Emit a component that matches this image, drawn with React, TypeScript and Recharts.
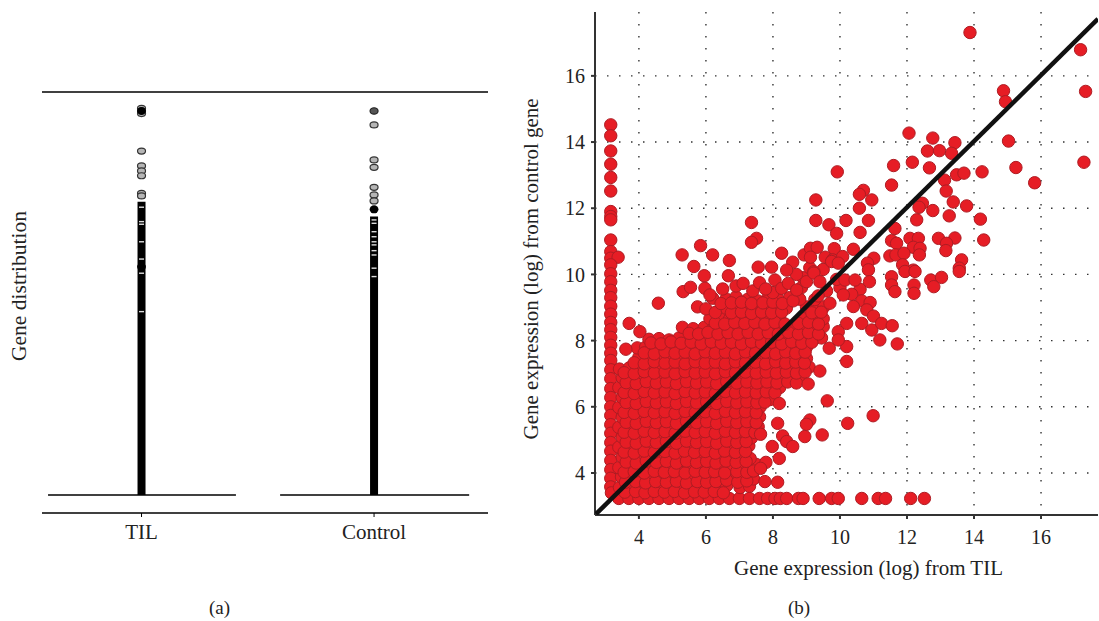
import React from "react";
import {
  ScatterChart, Scatter, XAxis, YAxis, CartesianGrid, ReferenceLine,
} from "recharts";

const SERIF = '"Liberation Serif", serif';

// (a) gene distribution
const categories = ["TIL", "Control"];
const columnTil = [0, 12.22];
const columnControl = [0, 11.6];
const outliersTil = [16.11, 16.0, 15.89, 14.33, 13.71, 13.5, 13.3, 12.57, 12.46];
const outliersControl = [16.0, 15.42, 13.96, 13.65, 12.82, 12.5, 12.25];
const solidTil = [9.51, 16.0];
const solidControl = [11.9];
const gapsTil = [11.99, 11.39, 11.28, 10.55, 9.83, 9.24, 7.64];
const gapsControl = [11.46, 11.32, 10.97, 10.76, 10.55, 10.42, 10.18, 10.0, 9.45, 9.1];

// (b) expression TIL vs control, [til, control]
const edgeColumn = [
  [3.16, 14.52], [3.16, 14.19], [3.16, 13.73], [3.16, 13.33], [3.16, 12.93], [3.16, 12.52], [3.16, 11.9], [3.16, 11.75],
  [3.16, 11.65], [3.16, 11.04], [3.16, 10.69], [3.16, 10.49], [3.38, 10.52], [3.16, 10.29], [3.16, 10.02], [3.16, 9.78],
  [3.16, 9.52], [3.16, 9.3], [3.16, 9.04], [3.16, 8.8], [3.16, 8.55], [3.16, 8.33], [3.16, 8.1], [3.16, 7.86], [3.16, 7.62],
  [3.16, 7.4], [3.16, 7.12], [3.16, 6.85], [3.16, 6.55], [3.16, 6.28], [3.16, 6.0], [3.16, 5.74], [3.16, 5.46], [3.16, 5.2],
  [3.16, 4.92], [3.16, 4.66], [3.16, 4.38], [3.16, 4.1], [3.16, 3.84], [3.16, 3.58], [3.18, 3.4],
];
const floorRow = [
  [3.4, 3.23], [3.7, 3.23], [4.0, 3.23], [4.3, 3.23], [4.6, 3.23], [4.9, 3.23], [5.2, 3.23], [5.5, 3.23], [5.8, 3.23], [6.1, 3.23],
  [6.4, 3.23], [6.7, 3.23], [7.0, 3.23], [7.3, 3.23], [7.6, 3.23], [7.84, 3.23], [8.06, 3.23], [8.22, 3.23], [8.41, 3.23],
  [8.76, 3.23], [8.9, 3.23], [9.38, 3.23], [9.75, 3.23], [9.95, 3.23], [10.65, 3.23], [11.14, 3.23], [11.36, 3.23],
  [12.11, 3.23], [12.52, 3.23],
];
const lowerCloud = [
  [3.42, 3.56], [3.74, 3.6], [4.02, 3.52], [4.31, 3.62], [4.6, 3.55], [4.92, 3.6], [5.2, 3.54], [5.5, 3.62], [5.8, 3.55], [6.1, 3.6], [6.38, 3.54], [6.62, 3.62], [7.02, 3.56], [7.3, 3.6],
  [3.48, 3.88], [3.8, 3.84], [4.1, 3.9], [4.4, 3.82], [4.7, 3.9], [5.0, 3.85], [5.3, 3.9], [5.62, 3.83], [5.9, 3.9], [6.18, 3.84], [6.44, 3.92], [6.8, 3.86], [7.1, 3.92], [7.42, 3.82],
  [3.4, 4.16], [3.68, 4.2], [3.98, 4.14], [4.28, 4.22], [4.58, 4.14], [4.88, 4.2], [5.18, 4.15], [5.48, 4.22], [5.78, 4.14], [6.08, 4.2], [6.36, 4.14], [6.7, 4.22], [7.0, 4.14], [7.3, 4.2], [7.5, 4.26],
  [3.5, 4.48], [3.8, 4.44], [4.1, 4.5], [4.4, 4.45], [4.72, 4.52], [5.02, 4.44], [5.3, 4.5], [5.6, 4.46], [5.92, 4.52], [6.22, 4.45], [6.5, 4.5], [6.82, 4.46], [7.12, 4.5], [7.32, 4.44],
  [3.4, 4.78], [3.7, 4.8], [4.0, 4.74], [4.3, 4.8], [4.6, 4.76], [4.9, 4.82], [5.2, 4.75], [5.5, 4.8], [5.8, 4.76], [6.1, 4.82], [6.4, 4.75], [6.7, 4.8], [7.0, 4.76], [7.28, 4.82],
  [3.5, 5.08], [3.8, 5.04], [4.1, 5.1], [4.42, 5.05], [4.72, 5.12], [5.0, 5.05], [5.32, 5.1], [5.62, 5.06], [5.9, 5.12], [6.2, 5.05], [6.52, 5.1], [6.82, 5.04], [7.1, 5.1], [7.36, 5.06],
  [3.4, 5.38], [3.7, 5.34], [4.0, 5.4], [4.3, 5.36], [4.6, 5.42], [4.92, 5.35], [5.2, 5.4], [5.5, 5.34], [5.82, 5.42], [6.12, 5.36], [6.4, 5.4], [6.72, 5.35], [7.0, 5.42], [7.3, 5.36], [7.56, 5.4],
  [3.5, 5.68], [3.82, 5.64], [4.1, 5.7], [4.4, 5.65], [4.7, 5.72], [5.02, 5.66], [5.3, 5.7], [5.62, 5.64], [5.92, 5.72], [6.2, 5.65], [6.5, 5.7], [6.82, 5.66], [7.12, 5.72], [7.42, 5.64], [7.6, 5.7],
  [3.4, 5.98], [3.7, 5.94], [4.02, 6.0], [4.3, 5.95], [4.62, 6.02], [4.9, 5.96], [5.2, 6.0], [5.52, 5.94], [5.8, 6.02], [6.1, 5.95], [6.42, 6.0], [6.7, 5.96], [7.02, 6.02], [7.3, 5.95], [7.62, 6.0],
  [3.5, 6.28], [3.8, 6.24], [4.1, 6.3], [4.42, 6.25], [4.7, 6.32], [5.02, 6.26], [5.3, 6.3], [5.6, 6.24], [5.9, 6.32], [6.22, 6.25], [6.5, 6.3], [6.82, 6.26], [7.1, 6.32], [7.42, 6.25], [7.72, 6.3], [7.92, 6.22],
  [3.4, 6.58], [3.7, 6.54], [4.0, 6.6], [4.3, 6.55], [4.62, 6.62], [4.92, 6.56], [5.2, 6.6], [5.5, 6.54], [5.82, 6.62], [6.12, 6.55], [6.4, 6.6], [6.72, 6.56], [7.0, 6.62], [7.3, 6.55], [7.6, 6.6], [7.9, 6.54], [8.2, 6.58],
  [3.5, 6.88], [3.8, 6.84], [4.1, 6.9], [4.4, 6.85], [4.72, 6.92], [5.0, 6.86], [5.3, 6.9], [5.62, 6.84], [5.9, 6.92], [6.2, 6.85], [6.52, 6.9], [6.8, 6.86], [7.1, 6.92], [7.42, 6.85], [7.7, 6.9], [8.02, 6.84], [8.3, 6.9], [8.6, 6.85], [8.82, 6.92],
  [3.42, 7.14], [3.72, 7.18], [4.0, 7.14], [4.3, 7.2], [4.62, 7.15], [4.9, 7.2], [5.2, 7.14], [5.52, 7.2], [5.8, 7.16], [6.1, 7.22], [6.42, 7.15], [6.7, 7.2], [7.0, 7.14], [7.32, 7.2], [7.6, 7.16], [7.92, 7.22], [8.2, 7.15], [8.5, 7.2], [8.8, 7.14], [9.08, 7.2],
];
const lowerCloudBetween = [
  [3.58, 3.42], [3.9, 3.44], [4.18, 3.4], [4.46, 3.44], [4.76, 3.42], [5.06, 3.44], [5.36, 3.4], [5.66, 3.43], [5.95, 3.42], [6.25, 3.44], [6.52, 3.4],
  [3.6, 3.72], [3.9, 3.74], [4.2, 3.7], [4.5, 3.74], [4.82, 3.72], [5.12, 3.75], [5.42, 3.7], [5.74, 3.74], [6.02, 3.72], [6.3, 3.74], [6.62, 3.78], [6.95, 3.72], [7.22, 3.76],
  [3.56, 4.02], [3.86, 4.04], [4.16, 4.0], [4.46, 4.05], [4.76, 4.02], [5.06, 4.04], [5.38, 4.0], [5.68, 4.05], [5.98, 4.02], [6.26, 4.04], [6.56, 4.0], [6.92, 4.04], [7.22, 4.02], [7.42, 4.06],
  [3.62, 4.33], [3.92, 4.3], [4.22, 4.36], [4.52, 4.32], [4.82, 4.35], [5.12, 4.3], [5.42, 4.36], [5.72, 4.32], [6.02, 4.35], [6.3, 4.3], [6.6, 4.36], [6.9, 4.32], [7.2, 4.35],
  [3.56, 4.63], [3.86, 4.6], [4.16, 4.66], [4.46, 4.62], [4.78, 4.65], [5.08, 4.6], [5.36, 4.66], [5.66, 4.62], [5.98, 4.65], [6.28, 4.6], [6.56, 4.66], [6.88, 4.62], [7.18, 4.65],
  [3.62, 4.93], [3.92, 4.9], [4.22, 4.96], [4.52, 4.92], [4.82, 4.95], [5.12, 4.9], [5.42, 4.96], [5.72, 4.92], [6.02, 4.95], [6.32, 4.9], [6.62, 4.96], [6.92, 4.92], [7.2, 4.95],
  [3.56, 5.23], [3.86, 5.2], [4.16, 5.26], [4.46, 5.22], [4.78, 5.25], [5.08, 5.2], [5.38, 5.26], [5.68, 5.22], [5.98, 5.25], [6.28, 5.2], [6.58, 5.26], [6.88, 5.22], [7.18, 5.25], [7.46, 5.22],
  [3.62, 5.53], [3.92, 5.5], [4.22, 5.56], [4.52, 5.52], [4.82, 5.55], [5.12, 5.5], [5.42, 5.56], [5.72, 5.52], [6.02, 5.55], [6.32, 5.5], [6.62, 5.56], [6.92, 5.52], [7.22, 5.55], [7.5, 5.52],
  [3.56, 5.83], [3.86, 5.8], [4.16, 5.86], [4.46, 5.82], [4.78, 5.85], [5.08, 5.8], [5.38, 5.86], [5.68, 5.82], [5.98, 5.85], [6.28, 5.8], [6.58, 5.86], [6.88, 5.82], [7.18, 5.85], [7.5, 5.82],
  [3.62, 6.13], [3.92, 6.1], [4.22, 6.16], [4.52, 6.12], [4.82, 6.15], [5.12, 6.1], [5.42, 6.16], [5.72, 6.12], [6.02, 6.15], [6.32, 6.1], [6.62, 6.16], [6.92, 6.12], [7.22, 6.15], [7.52, 6.12], [7.76, 6.14],
  [3.56, 6.43], [3.86, 6.4], [4.16, 6.46], [4.46, 6.42], [4.78, 6.45], [5.08, 6.4], [5.38, 6.46], [5.68, 6.42], [5.98, 6.45], [6.28, 6.4], [6.58, 6.46], [6.88, 6.42], [7.18, 6.45], [7.5, 6.42], [7.8, 6.45], [8.06, 6.42],
  [3.62, 6.73], [3.92, 6.7], [4.22, 6.76], [4.52, 6.72], [4.82, 6.75], [5.12, 6.7], [5.42, 6.76], [5.72, 6.72], [6.02, 6.75], [6.32, 6.7], [6.62, 6.76], [6.92, 6.72], [7.22, 6.75], [7.52, 6.72], [7.82, 6.75], [8.12, 6.72], [8.44, 6.75], [8.7, 6.72],
  [3.56, 7.03], [3.86, 7.0], [4.16, 7.06], [4.46, 7.02], [4.78, 7.05], [5.08, 7.0], [5.38, 7.06], [5.68, 7.02], [5.98, 7.05], [6.28, 7.0], [6.58, 7.06], [6.88, 7.02], [7.18, 7.05], [7.5, 7.02], [7.8, 7.05], [8.1, 7.02], [8.4, 7.05], [8.7, 7.02], [8.96, 7.05],
];
const upperCloud = [
  [4.0, 7.5], [4.3, 7.46], [4.6, 7.52], [4.92, 7.46], [5.2, 7.5], [5.5, 7.45], [5.82, 7.52], [6.1, 7.46], [6.4, 7.5], [6.72, 7.46], [7.0, 7.52], [7.3, 7.45], [7.6, 7.5], [7.9, 7.46], [8.22, 7.52], [8.5, 7.46], [8.8, 7.5], [9.0, 7.46],
  [3.95, 7.78], [4.2, 7.8], [4.5, 7.76], [4.8, 7.82], [5.1, 7.76], [5.42, 7.8], [5.7, 7.76], [6.0, 7.82], [6.32, 7.76], [6.6, 7.8], [6.9, 7.75], [7.2, 7.82], [7.52, 7.76], [7.8, 7.8], [8.1, 7.76], [8.42, 7.82], [8.7, 7.76], [9.0, 7.8],
  [4.3, 8.04], [4.6, 8.06], [4.9, 8.02], [5.2, 8.08], [5.6, 8.05], [5.9, 8.08], [6.2, 8.02], [6.5, 8.08], [6.82, 8.04], [7.1, 8.1], [7.4, 8.04], [7.7, 8.08], [8.02, 8.04], [8.3, 8.1], [8.6, 8.04], [8.92, 8.08], [9.2, 8.02], [9.45, 8.08],
  [5.3, 8.4], [5.62, 8.36], [5.95, 8.4], [6.2, 8.34], [6.5, 8.4], [6.8, 8.36], [7.12, 8.42], [7.4, 8.36], [7.7, 8.4], [8.0, 8.35], [8.3, 8.42], [8.62, 8.36], [8.9, 8.4], [9.2, 8.36], [9.5, 8.42],
  [6.12, 8.66], [6.42, 8.7], [6.7, 8.64], [7.0, 8.7], [7.3, 8.66], [7.6, 8.72], [7.92, 8.66], [8.2, 8.7], [8.9, 8.68], [9.2, 8.72], [9.5, 8.66],
  [5.75, 9.02], [6.0, 8.96], [6.6, 8.98], [6.9, 9.02], [7.2, 8.96], [7.5, 9.02], [7.82, 8.96], [8.1, 9.02], [8.4, 8.98], [9.0, 9.02], [9.3, 8.96], [9.52, 9.02],
  [6.2, 9.28], [6.6, 9.26], [6.9, 9.32], [7.25, 9.25], [7.55, 9.2], [7.86, 9.3], [8.15, 9.26], [8.5, 9.3], [9.25, 9.24],
];
const upperCloudBetween = [
  [3.86, 7.33], [4.16, 7.3], [4.46, 7.36], [4.78, 7.32], [5.08, 7.35], [5.38, 7.3], [5.68, 7.36], [5.98, 7.32], [6.28, 7.35], [6.58, 7.3], [6.88, 7.36], [7.18, 7.32], [7.48, 7.35], [7.78, 7.3], [8.08, 7.36], [8.38, 7.32], [8.68, 7.35], [8.94, 7.32],
  [4.16, 7.63], [4.46, 7.6], [4.78, 7.66], [5.08, 7.62], [5.38, 7.65], [5.68, 7.6], [5.98, 7.66], [6.28, 7.62], [6.58, 7.65], [6.88, 7.6], [7.18, 7.66], [7.48, 7.62], [7.78, 7.65], [8.08, 7.6], [8.38, 7.66], [8.68, 7.62], [8.96, 7.65],
  [4.36, 7.93], [4.66, 7.9], [4.96, 7.96], [5.26, 7.92], [5.56, 7.95], [5.86, 7.9], [6.16, 7.96], [6.46, 7.92], [6.76, 7.95], [7.06, 7.9], [7.36, 7.96], [7.66, 7.92], [7.96, 7.95], [8.26, 7.9], [8.56, 7.96], [8.86, 7.92], [9.16, 7.95],
  [5.5, 8.22], [5.78, 8.2], [6.06, 8.25], [6.36, 8.2], [6.66, 8.24], [6.96, 8.2], [7.26, 8.25], [7.56, 8.2], [7.86, 8.24], [8.16, 8.2], [8.46, 8.25], [8.76, 8.2], [9.06, 8.24], [9.36, 8.2],
  [6.28, 8.53], [6.56, 8.5], [6.86, 8.55], [7.16, 8.52], [7.46, 8.55], [7.76, 8.5], [8.06, 8.55], [8.36, 8.5], [8.76, 8.52], [9.06, 8.55], [9.36, 8.5],
  [6.28, 8.85], [6.76, 8.84], [7.06, 8.86], [7.36, 8.82], [7.66, 8.86], [7.96, 8.84], [8.26, 8.86], [9.16, 8.84], [9.44, 8.86],
  [6.45, 9.12], [6.76, 9.14], [7.06, 9.16], [7.36, 9.12], [7.7, 9.14], [8.0, 9.16], [8.28, 9.12],
];
const upperFringe = [
  [10.0, 9.6], [9.6, 9.5], [9.35, 9.35], [8.8, 9.25], [8.9, 9.9], [8.7, 10.0], [9.5, 10.15], [9.1, 10.2], [10.6, 9.55], [10.35, 9.4],
  [10.65, 9.2], [6.9, 9.65], [7.4, 9.5], [7.6, 9.75], [8.0, 9.45], [8.85, 9.6], [9.9, 9.85], [8.6, 9.2],
];
const outliers = [
  [13.88, 17.31], [17.18, 16.79], [17.33, 15.53], [17.28, 13.39], [14.88, 15.55], [14.94, 15.22], [15.03, 14.03], [15.25, 13.23],
  [15.81, 12.77], [12.06, 14.27], [12.77, 14.12], [13.43, 13.98], [12.61, 13.73], [12.97, 13.74], [13.33, 13.66], [11.6, 13.29],
  [12.16, 13.39], [12.67, 13.22], [9.92, 13.1], [13.48, 13.01], [13.7, 13.06], [14.24, 13.1], [11.54, 12.7], [13.12, 12.85],
  [13.17, 12.52], [10.7, 12.54], [10.58, 12.42], [10.95, 12.25], [9.28, 12.25], [10.58, 12.0], [13.38, 12.19], [12.46, 12.15],
  [12.36, 12.03], [12.77, 11.93], [13.78, 12.07], [13.26, 11.77], [12.29, 11.65], [14.19, 11.67], [7.36, 11.57], [9.28, 11.63],
  [9.67, 11.5], [10.18, 11.63], [10.85, 11.63], [9.9, 11.24], [11.64, 11.39], [10.6, 11.27], [7.51, 11.09], [7.36, 10.97],
  [11.54, 11.02], [12.09, 11.09], [12.34, 11.09], [12.94, 11.09], [13.43, 11.1], [14.29, 11.04], [13.18, 10.94], [11.69, 10.94],
  [12.19, 10.82], [12.39, 10.79], [13.16, 10.72], [5.84, 10.87], [5.29, 10.59], [6.2, 10.59], [6.7, 10.42], [5.64, 10.24],
  [8.26, 10.64], [8.93, 10.59], [9.12, 10.79], [9.32, 10.82], [9.83, 10.78], [9.12, 10.52], [9.56, 10.52], [9.78, 10.44],
  [10.08, 10.54], [10.4, 10.76], [8.59, 10.37], [8.41, 10.13], [7.56, 10.22], [7.96, 10.22], [11.01, 10.49], [10.82, 10.34],
  [11.49, 10.56], [11.67, 10.59], [11.91, 10.64], [12.37, 10.59], [11.87, 10.29], [12.19, 10.13], [13.63, 10.44], [13.56, 10.19],
  [9.22, 10.08], [4.58, 9.13], [5.95, 9.96], [6.67, 9.96], [5.32, 9.48], [5.54, 9.61], [5.97, 9.58], [6.12, 9.38], [6.5, 9.56],
  [7.11, 9.73], [7.78, 9.56], [8.06, 9.83], [8.26, 9.58], [8.46, 9.73], [8.71, 9.53], [9.0, 9.78], [9.22, 10.04], [9.4, 9.78],
  [9.75, 10.39], [9.95, 10.34], [10.15, 9.83], [10.45, 9.83], [10.85, 10.14], [10.88, 9.78], [11.54, 9.93], [11.54, 9.68],
  [11.64, 9.48], [11.94, 10.09], [12.24, 10.09], [12.21, 9.68], [12.21, 9.43], [12.71, 9.83], [13.03, 9.91], [12.8, 9.63],
  [13.56, 10.09], [10.1, 9.38], [10.4, 9.03], [9.7, 9.13], [10.9, 9.15], [10.8, 8.93], [11.0, 8.74], [10.65, 8.52], [10.95, 8.32],
  [11.24, 8.52], [11.56, 8.45], [11.19, 8.02], [11.71, 7.9], [10.2, 8.52], [9.95, 8.27], [10.2, 7.82], [10.2, 7.37], [9.68, 7.77],
  [9.95, 8.02], [9.4, 7.08], [9.05, 6.69], [9.62, 6.18], [8.19, 6.1], [10.99, 5.73], [10.23, 5.5], [9.1, 5.6], [9.0, 5.47],
  [8.14, 5.5], [8.95, 5.1], [9.47, 5.15], [7.63, 5.17], [8.29, 5.12], [8.41, 4.95], [8.59, 4.8], [7.98, 4.8], [8.19, 4.44],
  [7.79, 4.32], [7.63, 4.14], [7.76, 3.74], [8.14, 3.72], [3.71, 8.52], [4.03, 8.27], [3.61, 7.74],
];
const identityLine = [[2.72, 2.76], [17.7, 17.72]];

const bigTicks = [4, 6, 8, 10, 12, 14, 16];
const toPoints = (pairs: number[][]) => pairs.map(([til, control]) => ({ til, control }));
const allPoints = toPoints([
  ...edgeColumn, ...floorRow, ...lowerCloud, ...lowerCloudBetween, ...upperCloud, ...upperCloudBetween, ...upperFringe, ...outliers,
]);
const atCategory = (pos: number, values: number[]) => values.map((value) => ({ pos, value }));

const RedDot = (props: any) => (
  <circle cx={props.cx} cy={props.cy} r={6.2} fill="#e61d25" stroke="#ae1c23" strokeWidth={1} />
);
const OpenDot = (props: any) => (
  <ellipse cx={props.cx} cy={props.cy} rx={4} ry={3} fill="#b5b5b5" stroke="#333" strokeWidth={1.2} />
);
const DarkDot = (props: any) => (
  <ellipse cx={props.cx} cy={props.cy} rx={4} ry={3.2} fill="#555" stroke="#222" strokeWidth={1.2} />
);
const SolidDot = (props: any) => (
  <ellipse cx={props.cx} cy={props.cy} rx={4.4} ry={4} fill="#000" />
);
const GapMark = (props: any) => (
  <rect x={props.cx - 2.5} y={props.cy - 0.7} width={5} height={1.4} fill="#ddd" />
);
const NoDot = () => null;

function GeneDistribution() {
  return (
    <ScatterChart width={500} height={621} margin={{ left: 42, right: 12, top: 92, bottom: 78 }}>
      <XAxis
        type="number" dataKey="pos" domain={[0.572, 2.49]} ticks={[1, 2]} height={30}
        tickFormatter={(v) => categories[v - 1]}
        axisLine={{ stroke: "#000", strokeWidth: 1.4 }}
        tickLine={{ stroke: "#000" }} tickSize={4}
        tick={{ fill: "#222", fontSize: 21, fontFamily: SERIF, dy: 5 }}
      />
      <YAxis type="number" dataKey="value" domain={[-0.75, 16.79]} hide />
      <ReferenceLine y={16.79} stroke="#000" strokeWidth={1.4} />
      <ReferenceLine segment={[{ x: 0.598, y: 0 }, { x: 1.406, y: 0 }]} stroke="#000" strokeWidth={1.4} />
      <ReferenceLine segment={[{ x: 1.596, y: 0 }, { x: 2.409, y: 0 }]} stroke="#000" strokeWidth={1.4} />
      <ReferenceLine segment={[{ x: 1, y: columnTil[0] }, { x: 1, y: columnTil[1] }]} stroke="#000" strokeWidth={8} />
      <ReferenceLine segment={[{ x: 2, y: columnControl[0] }, { x: 2, y: columnControl[1] }]} stroke="#000" strokeWidth={8} />
      <Scatter data={atCategory(1, outliersTil)} shape={OpenDot} isAnimationActive={false} />
      <Scatter data={atCategory(2, outliersControl.slice(1))} shape={OpenDot} isAnimationActive={false} />
      <Scatter data={atCategory(2, outliersControl.slice(0, 1))} shape={DarkDot} isAnimationActive={false} />
      <Scatter data={atCategory(1, solidTil)} shape={SolidDot} isAnimationActive={false} />
      <Scatter data={atCategory(2, solidControl)} shape={SolidDot} isAnimationActive={false} />
      <Scatter data={atCategory(1, gapsTil)} shape={GapMark} isAnimationActive={false} />
      <Scatter data={atCategory(2, gapsControl)} shape={GapMark} isAnimationActive={false} />
    </ScatterChart>
  );
}

function ExpressionScatter() {
  return (
    <ScatterChart width={589} height={621} margin={{ left: 45, right: 1, top: 12, bottom: 76 }}>
      <CartesianGrid stroke="#333" strokeWidth={1.4} strokeDasharray="1.5 10.5" syncWithTicks />
      <XAxis
        type="number" dataKey="til" domain={[2.69, 17.7]} ticks={bigTicks} height={30} allowDataOverflow
        axisLine={{ stroke: "#333", strokeWidth: 2 }}
        tickLine={{ stroke: "#333", strokeWidth: 2 }} tickSize={4}
        tick={{ fill: "#222", fontSize: 20, fontFamily: SERIF, dy: 9 }}
        label={{ value: "Gene expression (log) from TIL", position: "bottom", offset: 15, fill: "#222", fontSize: 21, fontFamily: SERIF, dx: 22 }}
      />
      <YAxis
        type="number" dataKey="control" domain={[2.73, 17.93]} ticks={bigTicks} width={40} allowDataOverflow
        axisLine={{ stroke: "#333", strokeWidth: 2 }}
        tickLine={{ stroke: "#333", strokeWidth: 2 }} tickSize={4}
        tick={{ fill: "#222", fontSize: 20, fontFamily: SERIF, dx: -4 }}
        label={{ value: "Gene expression (log) from control gene", angle: -90, position: "insideLeft", fill: "#222", fontSize: 21, fontFamily: SERIF, dx: -29, dy: 176 }}
      />
      <Scatter data={allPoints} shape={RedDot} isAnimationActive={false} />
      <Scatter
        data={toPoints(identityLine)} shape={NoDot} line={{ stroke: "#111", strokeWidth: 4.5 }}
        isAnimationActive={false}
      />
    </ScatterChart>
  );
}

const captionStyle: React.CSSProperties = {
  position: "absolute", top: 597, fontFamily: SERIF, fontSize: 19, color: "#222",
};

export default function App() {
  return (
    <div style={{ position: "absolute", left: 0, top: 0, width: 1099, height: 621, overflow: "hidden", background: "#fff" }}>
      <div style={{ position: "absolute", left: 0, top: 0 }}>
        <GeneDistribution />
      </div>
      <div style={{ position: "absolute", left: 510, top: 0 }}>
        <ExpressionScatter />
      </div>
      <div
        style={{
          position: "absolute", left: 19, top: 286, transform: "translate(-50%, -50%) rotate(-90deg)",
          fontFamily: SERIF, fontSize: 21.5, color: "#222", whiteSpace: "nowrap",
        }}
      >
        Gene distribution
      </div>
      <div style={{ ...captionStyle, left: 209 }}>(a)</div>
      <div style={{ ...captionStyle, left: 788 }}>(b)</div>
    </div>
  );
}
